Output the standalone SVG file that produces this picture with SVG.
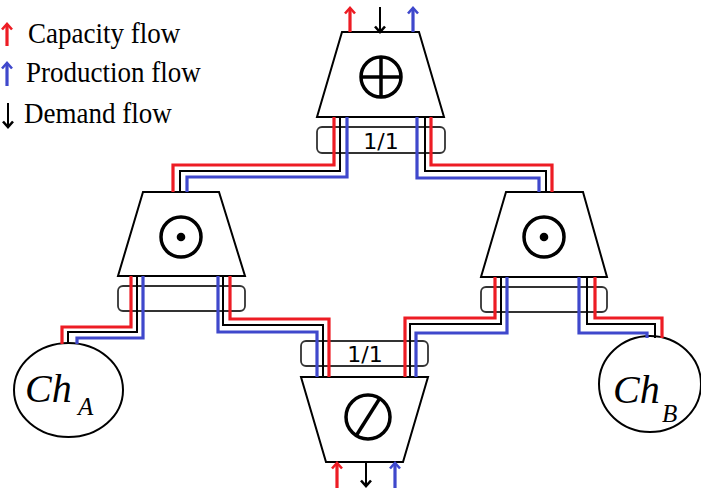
<svg xmlns="http://www.w3.org/2000/svg" width="701" height="488" viewBox="0 0 701 488">
<style>
.trap{fill:#fff;stroke:#000;stroke-width:2}
.box{fill:none;stroke:#333;stroke-width:1.8}
.sym{fill:none;stroke:#000;stroke-width:3.5}
.ell{fill:#fff;stroke:#000;stroke-width:2}
.r{fill:none;stroke:#ed1c24;stroke-width:3.2}
.b{fill:none;stroke:#3f48cc;stroke-width:3.2}
.k{fill:none;stroke:#000;stroke-width:2}
.lbl{font-family:"DejaVu Sans",sans-serif;font-size:22px;fill:#000}
.leg{font-family:"Liberation Serif",serif;font-size:27px;fill:#000}
.ch{font-family:"Liberation Serif",serif;font-style:italic;fill:#000}
</style>
<defs>
<marker id="hr" markerUnits="userSpaceOnUse" markerWidth="14" markerHeight="14" refX="7" refY="7" orient="auto"><path d="M1.5,2 L7,7 L1.5,12" fill="none" stroke="#ed1c24" stroke-width="2.6"/></marker>
<marker id="hb" markerUnits="userSpaceOnUse" markerWidth="14" markerHeight="14" refX="7" refY="7" orient="auto"><path d="M1.5,2 L7,7 L1.5,12" fill="none" stroke="#3f48cc" stroke-width="2.6"/></marker>
<marker id="hk" markerUnits="userSpaceOnUse" markerWidth="14" markerHeight="14" refX="7" refY="7" orient="auto"><path d="M1.5,2 L7,7 L1.5,12" fill="none" stroke="#000" stroke-width="2.6"/></marker>
</defs>
<rect width="701" height="488" fill="#fff"/>

<g id="legend">
<line x1="7" y1="46" x2="7" y2="24" class="r" marker-end="url(#hr)"/>
<text class="leg" transform="translate(28,43) scale(1,1.1)">Capacity flow</text>
<line x1="7" y1="86" x2="7" y2="63" class="b" marker-end="url(#hb)"/>
<text class="leg" transform="translate(26,82) scale(1,1.1)">Production flow</text>
<line x1="8" y1="103" x2="8" y2="127" class="k" stroke-width="3" marker-end="url(#hk)"/>
<text class="leg" transform="translate(24,123) scale(1,1.1)">Demand flow</text>
</g>

<g id="node-sum">
<polygon class="trap" points="342,32 419,32 444,117 317,117"/>
<circle class="sym" cx="381" cy="77" r="20"/>
<line class="sym" x1="361" y1="77" x2="401" y2="77" stroke-width="3"/>
<line class="sym" x1="381" y1="57" x2="381" y2="97" stroke-width="3"/>
<rect class="box" x="317" y="127" width="128" height="26" rx="5"/>
<text class="lbl" x="381" y="149" text-anchor="middle">1/1</text>
<line x1="350" y1="32" x2="350" y2="8" class="r" marker-end="url(#hr)"/>
<line x1="380" y1="7" x2="380" y2="32" class="k" stroke-width="3" marker-end="url(#hk)"/>
<line x1="413" y1="32" x2="413" y2="8" class="b" marker-end="url(#hb)"/>
</g>

<g id="node-left">
<polygon class="trap" points="143,192 219,192 245,276 118,276"/>
<circle class="sym" cx="181" cy="237" r="20"/>
<circle cx="181" cy="237" r="4.3" fill="#000"/>
<rect class="box" x="118" y="286" width="127" height="25" rx="5"/>
</g>

<g id="node-right">
<polygon class="trap" points="506,192 583,192 607,277 481,277"/>
<circle class="sym" cx="544" cy="237" r="20"/>
<circle cx="544" cy="237" r="4.3" fill="#000"/>
<rect class="box" x="481" y="287" width="126" height="25" rx="5"/>
</g>

<g id="node-split">
<rect class="box" x="301" y="341" width="127" height="25" rx="5"/>
<text class="lbl" x="365" y="362" text-anchor="middle">1/1</text>
<polygon class="trap" points="301,377 428,377 403,462 326,462"/>
<circle class="sym" cx="368" cy="417" r="22"/>
<line class="sym" x1="380" y1="398" x2="356" y2="436" stroke-width="3"/>
<line x1="337" y1="488" x2="337" y2="463" class="r" marker-end="url(#hr)"/>
<line x1="366" y1="462" x2="366" y2="486" class="k" stroke-width="3" marker-end="url(#hk)"/>
<line x1="395" y1="488" x2="395" y2="463" class="b" marker-end="url(#hb)"/>
</g>

<g id="node-chA">
<ellipse class="ell" cx="68.5" cy="390" rx="54.5" ry="47"/>
<text class="ch" x="25" y="402" font-size="40">Ch</text>
<text class="ch" x="78" y="415" font-size="25">A</text>
</g>

<g id="node-chB">
<ellipse class="ell" cx="650" cy="384" rx="51" ry="48"/>
<text class="ch" x="613" y="403" font-size="40">Ch</text>
<text class="ch" x="662" y="422" font-size="25">B</text>
</g>

<g id="connectors">
<polyline class="r" points="334,117 334,165 173,165 173,192"/>
<polyline class="k" points="340,117 340,171 180,171 180,192"/>
<polyline class="b" points="347,117 347,177 187,177 187,192"/>

<polyline class="r" points="431,117 431,165 552,165 552,192"/>
<polyline class="k" points="425,117 425,171 546,171 546,192"/>
<polyline class="b" points="417,117 417,178 539,178 539,192"/>

<polyline class="r" points="131,276 131,327 62,327 62,344"/>
<polyline class="k" points="137,276 137,332 68,332 68,344"/>
<polyline class="b" points="143,276 143,338 77,338 77,344"/>

<polyline class="r" points="230,276 230,319 329,319 329,377"/>
<polyline class="k" points="223,276 223,325 323,325 323,377"/>
<polyline class="b" points="218,276 218,332 317,332 317,377"/>

<polyline class="r" points="495,277 495,318 405,318 405,377"/>
<polyline class="k" points="501,277 501,324 410,324 410,377"/>
<polyline class="b" points="507,277 507,333 416,333 416,377"/>

<polyline class="r" points="595,277 595,318 662,318 662,338"/>
<polyline class="k" points="587,277 587,324 655,324 655,338"/>
<polyline class="b" points="579,277 579,333 647,333 647,338"/>
</g>
</svg>
